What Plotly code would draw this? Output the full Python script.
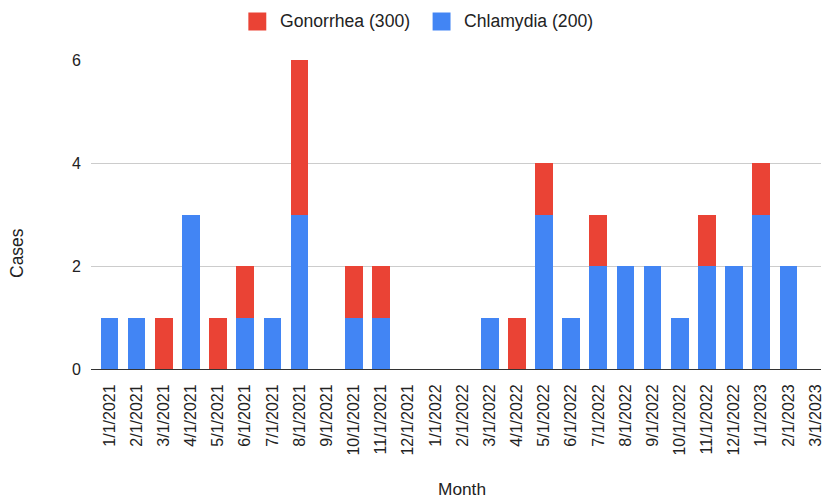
import plotly.graph_objects as go

months = ["1/1/2021", "2/1/2021", "3/1/2021", "4/1/2021", "5/1/2021", "6/1/2021",
          "7/1/2021", "8/1/2021", "9/1/2021", "10/1/2021", "11/1/2021", "12/1/2021",
          "1/1/2022", "2/1/2022", "3/1/2022", "4/1/2022", "5/1/2022", "6/1/2022",
          "7/1/2022", "8/1/2022", "9/1/2022", "10/1/2022", "11/1/2022", "12/1/2022",
          "1/1/2023", "2/1/2023", "3/1/2023"]
chlamydia = [1, 1, 0, 3, 0, 1, 1, 3, 0, 1, 1, 0, 0, 0, 1, 0, 3, 1, 2, 2, 2, 1, 2, 2, 3, 2, 0]
gonorrhea = [0, 0, 1, 0, 1, 1, 0, 3, 0, 1, 1, 0, 0, 0, 0, 1, 1, 0, 1, 0, 0, 0, 1, 0, 1, 0, 0]
y_ticks = [0, 2, 4, 6]

FONT = "Liberation Sans, Arial, sans-serif"
BLUE = "#4285F4"
RED = "#EA4335"
TXT = "#222222"

W, H = 824, 500
L, R, T, B = 91, 0, 60, 131
PW, PH = W - L - R, H - T - B


def px_x(px):
    return (px - L) / PW


def px_y(py):
    return (H - B - py) / PH


fig = go.Figure()
fig.add_trace(go.Bar(x=months, y=chlamydia, name="Chlamydia (200)", showlegend=False,
                     marker=dict(color=BLUE, cornerradius=0, line=dict(width=0))))
fig.add_trace(go.Bar(x=months, y=gonorrhea, name="Gonorrhea (300)", showlegend=False,
                     marker=dict(color=RED, line=dict(width=0))))

# legend drawn as shapes + text
legend_items = [("Gonorrhea (300)", RED, 249), ("Chlamydia (200)", BLUE, 434)]
shapes = []
annotations = []
for label, color, sx in legend_items:
    shapes.append(dict(type="rect", xref="paper", yref="paper",
                       x0=px_x(sx), x1=px_x(sx + 18), y0=px_y(30.5), y1=px_y(12.5),
                       fillcolor=color, line=dict(width=0)))
    annotations.append(dict(text=label, xref="paper", yref="paper",
                            x=px_x(sx + 30), xanchor="left", y=px_y(21.5), yanchor="middle",
                            showarrow=False, font=dict(size=17.6, color=TXT)))

annotations.append(dict(text="Cases", xref="paper", yref="paper", x=px_x(16.7), xanchor="center",
                        y=px_y(253), yanchor="middle", showarrow=False, textangle=-90,
                        font=dict(size=17.5, color=TXT)))
annotations.append(dict(text="Month", xref="paper", yref="paper", x=px_x(464), xanchor="center",
                        y=px_y(489), yanchor="middle", showarrow=False,
                        font=dict(size=17.3, color=TXT)))

fig.update_layout(
    width=W, height=H,
    barmode="stack", bargap=0.35,
    plot_bgcolor="white", paper_bgcolor="white",
    margin=dict(l=L, r=R, t=T, b=B),
    font=dict(family=FONT, color=TXT, size=16),
    showlegend=False,
    xaxis=dict(
        type="category", categoryorder="array", categoryarray=months,
        range=[-0.68, 26.2],
        tickangle=-90, tickfont=dict(size=16, color=TXT),
        showgrid=False, showline=True, linecolor="#333333", linewidth=1,
        ticks="", ticklabelstandoff=8,
    ),
    yaxis=dict(
        range=[0, 6], tickvals=y_ticks,
        showgrid=True, gridcolor="#cccccc", gridwidth=1,
        zeroline=False, ticks="", ticklabelstandoff=9,
        tickfont=dict(size=16, color=TXT),
    ),
    shapes=shapes,
    annotations=annotations,
)

fig.write_html("out.html")
